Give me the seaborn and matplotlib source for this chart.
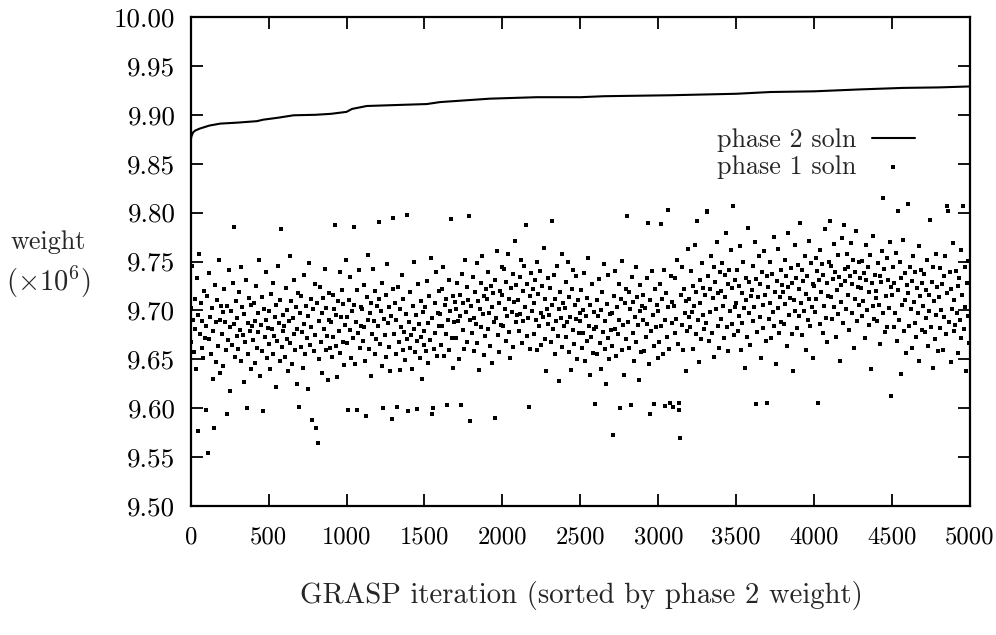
import numpy as np
import pandas as pd
import matplotlib
matplotlib.use("Agg")
import matplotlib.pyplot as plt
import seaborn as sns

# ---------------- data ----------------
# phase 2 solution weight (x 10^6) along the sorted GRASP iterations
phase2_iter = [0, 5, 15, 30, 60, 120, 190, 300, 425, 465, 560, 660, 800, 900, 1000,
               1035, 1130, 1320, 1515, 1600, 1920, 2220, 2500, 2650, 3080, 3500,
               3720, 4000, 4300, 4570, 4800, 5000]
phase2_weight = [9.874, 9.878, 9.882, 9.884, 9.886, 9.889, 9.891, 9.892, 9.8935, 9.895,
                 9.897, 9.8995, 9.900, 9.901, 9.903, 9.906, 9.909, 9.910, 9.911, 9.913,
                 9.9165, 9.918, 9.918, 9.919, 9.920, 9.9215, 9.9233, 9.924, 9.926,
                 9.9275, 9.928, 9.929]

# phase 1 solution weight in thousands (every 5th iteration, 20 per 100 iterations)
phase1_weight_k = [
    9702, 9668, 9745, 9690, 9657, 9712, 9681, 9640, 9733, 9695, 9577, 9758, 9676, 9708, 9662, 9689, 9651, 9720, 9672, 9598,
    9684, 9715, 9554, 9671, 9738, 9693, 9655, 9702, 9630, 9679, 9580, 9726, 9688, 9647, 9711, 9664, 9752, 9690, 9636, 9705,
    9676, 9698, 9643, 9722, 9688, 9659, 9594, 9705, 9670, 9741, 9683, 9618, 9699, 9665, 9728, 9686, 9785, 9652, 9710, 9674,
    9692, 9661, 9719, 9680, 9744, 9648, 9703, 9675, 9627, 9696, 9668, 9731, 9600, 9687, 9655, 9713, 9679, 9640, 9706, 9684,
    9670, 9708, 9646, 9689, 9725, 9662, 9697, 9678, 9752, 9633, 9685, 9714, 9658, 9597, 9701, 9673, 9739, 9690, 9651, 9682,
    9666, 9699, 9640, 9717, 9681, 9655, 9728, 9674, 9693, 9622, 9706, 9669, 9745, 9687, 9648, 9711, 9783, 9663, 9695, 9679,
    9684, 9652, 9723, 9671, 9700, 9638, 9689, 9756, 9667, 9710, 9645, 9692, 9676, 9731, 9660, 9703, 9625, 9681, 9718, 9601,
    9697, 9663, 9715, 9678, 9641, 9736, 9686, 9655, 9705, 9672, 9620, 9694, 9748, 9665, 9712, 9683, 9588, 9701, 9658, 9727,
    9675, 9580, 9708, 9564, 9689, 9650, 9724, 9668, 9697, 9636, 9713, 9681, 9742, 9659, 9702, 9674, 9629, 9690, 9718, 9662,
    9688, 9652, 9716, 9673, 9701, 9787, 9664, 9695, 9632, 9710, 9679, 9739, 9656, 9693, 9721, 9668, 9707, 9644, 9685, 9752,
    9693, 9667, 9598, 9711, 9680, 9734, 9651, 9699, 9672, 9785, 9706, 9645, 9688, 9721, 9598, 9677, 9741, 9662, 9703, 9684,
    9701, 9669, 9726, 9683, 9648, 9592, 9714, 9690, 9757, 9661, 9697, 9633, 9708, 9676, 9742, 9689, 9655, 9720, 9671, 9705,
    9684, 9712, 9790, 9666, 9699, 9643, 9728, 9600, 9691, 9675, 9716, 9652, 9747, 9687, 9663, 9703, 9638, 9694, 9589, 9722,
    9794, 9676, 9708, 9655, 9690, 9601, 9724, 9668, 9701, 9639, 9683, 9736, 9660, 9712, 9678, 9649, 9696, 9798, 9671, 9597,
    9688, 9662, 9719, 9675, 9640, 9704, 9681, 9749, 9657, 9695, 9669, 9599, 9727, 9686, 9651, 9710, 9673, 9630, 9698, 9665,
    9679, 9703, 9658, 9730, 9687, 9646, 9715, 9670, 9754, 9594, 9692, 9600, 9661, 9708, 9677, 9739, 9653, 9697, 9684, 9720,
    9696, 9665, 9722, 9684, 9744, 9653, 9706, 9676, 9712, 9603, 9690, 9731, 9660, 9699, 9793, 9672, 9715, 9641, 9688, 9709,
    9701, 9672, 9728, 9689, 9650, 9716, 9694, 9603, 9737, 9680, 9708, 9661, 9752, 9698, 9724, 9668, 9711, 9797, 9587, 9690,
    9705, 9677, 9734, 9692, 9658, 9719, 9686, 9748, 9667, 9710, 9639, 9701, 9728, 9683, 9756, 9696, 9654, 9715, 9674, 9722,
    9712, 9681, 9739, 9697, 9664, 9725, 9703, 9646, 9718, 9688, 9590, 9731, 9692, 9761, 9675, 9708, 9657, 9720, 9685, 9744,
    9716, 9684, 9742, 9701, 9669, 9729, 9694, 9758, 9678, 9712, 9651, 9723, 9698, 9737, 9663, 9709, 9771, 9688, 9726, 9695,
    9711, 9679, 9734, 9696, 9752, 9667, 9720, 9689, 9745, 9703, 9787, 9674, 9727, 9692, 9601, 9715, 9661, 9738, 9699, 9722,
    9708, 9676, 9731, 9690, 9749, 9659, 9717, 9684, 9740, 9697, 9665, 9725, 9693, 9764, 9671, 9712, 9638, 9701, 9733, 9686,
    9695, 9723, 9668, 9791, 9706, 9681, 9736, 9655, 9712, 9689, 9745, 9674, 9701, 9628, 9719, 9692, 9758, 9663, 9708, 9684,
    9702, 9673, 9729, 9688, 9750, 9657, 9714, 9693, 9639, 9722, 9680, 9741, 9666, 9706, 9691, 9735, 9650, 9711, 9677, 9697,
    9689, 9721, 9662, 9700, 9677, 9738, 9648, 9694, 9713, 9669, 9754, 9684, 9634, 9706, 9673, 9727, 9656, 9698, 9681, 9604,
    9683, 9711, 9655, 9694, 9732, 9667, 9700, 9640, 9719, 9678, 9747, 9661, 9689, 9625, 9707, 9672, 9736, 9650, 9696, 9680,
    9697, 9664, 9573, 9715, 9681, 9740, 9653, 9703, 9676, 9727, 9690, 9600, 9712, 9659, 9751, 9685, 9634, 9708, 9671, 9722,
    9797, 9688, 9719, 9662, 9701, 9603, 9734, 9677, 9709, 9648, 9693, 9744, 9668, 9714, 9685, 9629, 9726, 9699, 9657, 9705,
    9690, 9716, 9658, 9702, 9673, 9733, 9686, 9789, 9645, 9711, 9594, 9679, 9740, 9695, 9664, 9604, 9722, 9683, 9706, 9651,
    9699, 9668, 9727, 9684, 9788, 9712, 9655, 9741, 9690, 9602, 9718, 9673, 9703, 9803, 9661, 9605, 9735, 9687, 9709, 9601,
    9704, 9677, 9733, 9691, 9752, 9666, 9605, 9598, 9570, 9716, 9685, 9744, 9659, 9722, 9697, 9638, 9710, 9679, 9763, 9693,
    9712, 9683, 9740, 9698, 9661, 9725, 9704, 9767, 9676, 9719, 9791, 9690, 9647, 9731, 9708, 9671, 9748, 9695, 9723, 9681,
    9716, 9687, 9801, 9802, 9735, 9669, 9722, 9698, 9756, 9677, 9713, 9744, 9652, 9729, 9701, 9770, 9684, 9718, 9662, 9739,
    9720, 9691, 9748, 9705, 9672, 9736, 9714, 9779, 9683, 9727, 9658, 9741, 9699, 9762, 9686, 9723, 9807, 9675, 9731, 9703,
    9708, 9741, 9679, 9725, 9694, 9766, 9660, 9718, 9687, 9750, 9702, 9641, 9733, 9711, 9673, 9784, 9697, 9729, 9665, 9715,
    9721, 9689, 9745, 9703, 9770, 9604, 9732, 9678, 9714, 9756, 9693, 9727, 9651, 9739, 9706, 9682, 9761, 9716, 9669, 9735,
    9605, 9724, 9691, 9749, 9708, 9672, 9737, 9698, 9775, 9684, 9719, 9645, 9730, 9702, 9763, 9677, 9714, 9741, 9688, 9726,
    9719, 9686, 9752, 9707, 9735, 9664, 9724, 9779, 9695, 9713, 9743, 9676, 9728, 9638, 9711, 9767, 9699, 9733, 9682, 9746,
    9722, 9694, 9789, 9708, 9741, 9675, 9730, 9699, 9756, 9717, 9660, 9735, 9690, 9771, 9712, 9684, 9748, 9703, 9727, 9651,
    9725, 9698, 9754, 9712, 9740, 9605, 9731, 9686, 9762, 9719, 9747, 9677, 9736, 9704, 9783, 9692, 9728, 9668, 9715, 9750,
    9791, 9714, 9745, 9691, 9732, 9768, 9703, 9739, 9673, 9721, 9757, 9696, 9734, 9648, 9726, 9709, 9774, 9687, 9787, 9742,
    9730, 9701, 9758, 9716, 9744, 9680, 9735, 9769, 9697, 9727, 9752, 9662, 9739, 9712, 9781, 9689, 9724, 9749, 9706, 9733,
    9723, 9694, 9751, 9710, 9738, 9672, 9731, 9767, 9700, 9744, 9685, 9719, 9757, 9640, 9728, 9705, 9776, 9691, 9736, 9713,
    9720, 9689, 9748, 9706, 9735, 9666, 9729, 9761, 9815, 9697, 9742, 9678, 9715, 9754, 9683, 9731, 9702, 9770, 9612, 9724,
    9716, 9744, 9683, 9728, 9697, 9759, 9669, 9802, 9721, 9690, 9749, 9635, 9733, 9706, 9772, 9679, 9738, 9711, 9656, 9726,
    9809, 9718, 9684, 9744, 9701, 9730, 9662, 9756, 9709, 9687, 9739, 9673, 9723, 9697, 9766, 9648, 9715, 9741, 9680, 9728,
    9705, 9737, 9678, 9721, 9692, 9752, 9664, 9716, 9699, 9792, 9683, 9729, 9641, 9744, 9710, 9671, 9758, 9695, 9724, 9658,
    9714, 9682, 9743, 9700, 9727, 9660, 9735, 9693, 9756, 9676, 9807, 9718, 9802, 9688, 9739, 9647, 9722, 9701, 9769, 9679,
    9711, 9685, 9740, 9697, 9725, 9656, 9733, 9690, 9762, 9672, 9716, 9807, 9681, 9744, 9703, 9638, 9728, 9694, 9751, 9667,
]
phase1_step = 5  # one recorded solution every 5 GRASP iterations

x_ticks = [0, 500, 1000, 1500, 2000, 2500, 3000, 3500, 4000, 4500, 5000]
y_ticks = [9.50, 9.55, 9.60, 9.65, 9.70, 9.75, 9.80, 9.85, 9.90, 9.95, 10.00]

phase1_df = pd.DataFrame({
    "iteration": np.arange(len(phase1_weight_k)) * phase1_step,
    "weight": np.array(phase1_weight_k) / 1000.0,
})
phase2_df = pd.DataFrame({"iteration": phase2_iter, "weight": phase2_weight})

# ---------------- style ----------------
sns.set_theme(style="ticks")
plt.rcParams["font.family"] = ["cmr10", "DejaVu Serif"]
plt.rcParams["mathtext.fontset"] = "cm"
plt.rcParams["axes.formatter.use_mathtext"] = True
plt.rcParams["axes.unicode_minus"] = False
FS_XTICK = 17.8
FS_YTICK = 19.5
FS_XLAB = 20.7
FS_LEG = 18.8
FS_YLAB = 18.8

fig = plt.figure(figsize=(9.96, 6.35), dpi=100)
W, H = 996, 635
L, R, T, B = 190.7, 970, 17, 506
ax = fig.add_axes([L / W, 1 - B / H, (R - L) / W, (B - T) / H])

sns.lineplot(data=phase2_df, x="iteration", y="weight", ax=ax, color="black",
             linewidth=1.5, label="phase 2 soln", estimator=None, sort=False)
sns.scatterplot(data=phase1_df, x="iteration", y="weight", ax=ax, color="black",
                marker="s", s=4.8, linewidth=0, label="phase 1 soln")

ax.set_xlim(0, 5000)
ax.set_ylim(9.5, 10.0)
ax.set_xticks(x_ticks)
ax.set_xticklabels([str(v) for v in x_ticks])
ax.set_yticks(y_ticks)
ax.set_yticklabels([f"{v:.2f}" for v in y_ticks])
ax.set_xlabel("")
ax.set_ylabel("")

for sp in ax.spines.values():
    sp.set_visible(True)
    sp.set_linewidth(1.6)
    sp.set_color("black")
ax.tick_params(axis="both", which="major", direction="in", length=8.6, width=1.3,
               top=True, right=True, colors="black")
ax.tick_params(axis="y", pad=11, labelsize=FS_YTICK)
ax.tick_params(axis="x", pad=14.5, labelsize=FS_XTICK)

# legend: text first, sample on the right (gnuplot style)
handles, labels = ax.get_legend_handles_labels()
leg = ax.legend(handles, labels, loc="center right", markerfirst=False, frameon=False,
                fontsize=FS_LEG, handlelength=1.65, handletextpad=0.6, labelspacing=0.1,
                borderpad=0, borderaxespad=0, markerscale=1.0,
                bbox_to_anchor=(915 / W, 1 - 153.5 / H), bbox_transform=fig.transFigure)

fig.text(48 / W, 1 - 242 / H, "weight", ha="center", va="center", fontsize=FS_YLAB)
fig.text(48 / W, 1 - 282 / H, r"$(\times10^6)$", ha="center", va="center", fontsize=20.5)
fig.text(581 / W, 1 - 595 / H, "GRASP iteration (sorted by phase 2 weight)",
         ha="center", va="center", fontsize=FS_XLAB)

fig.savefig("out.png", dpi=100)
